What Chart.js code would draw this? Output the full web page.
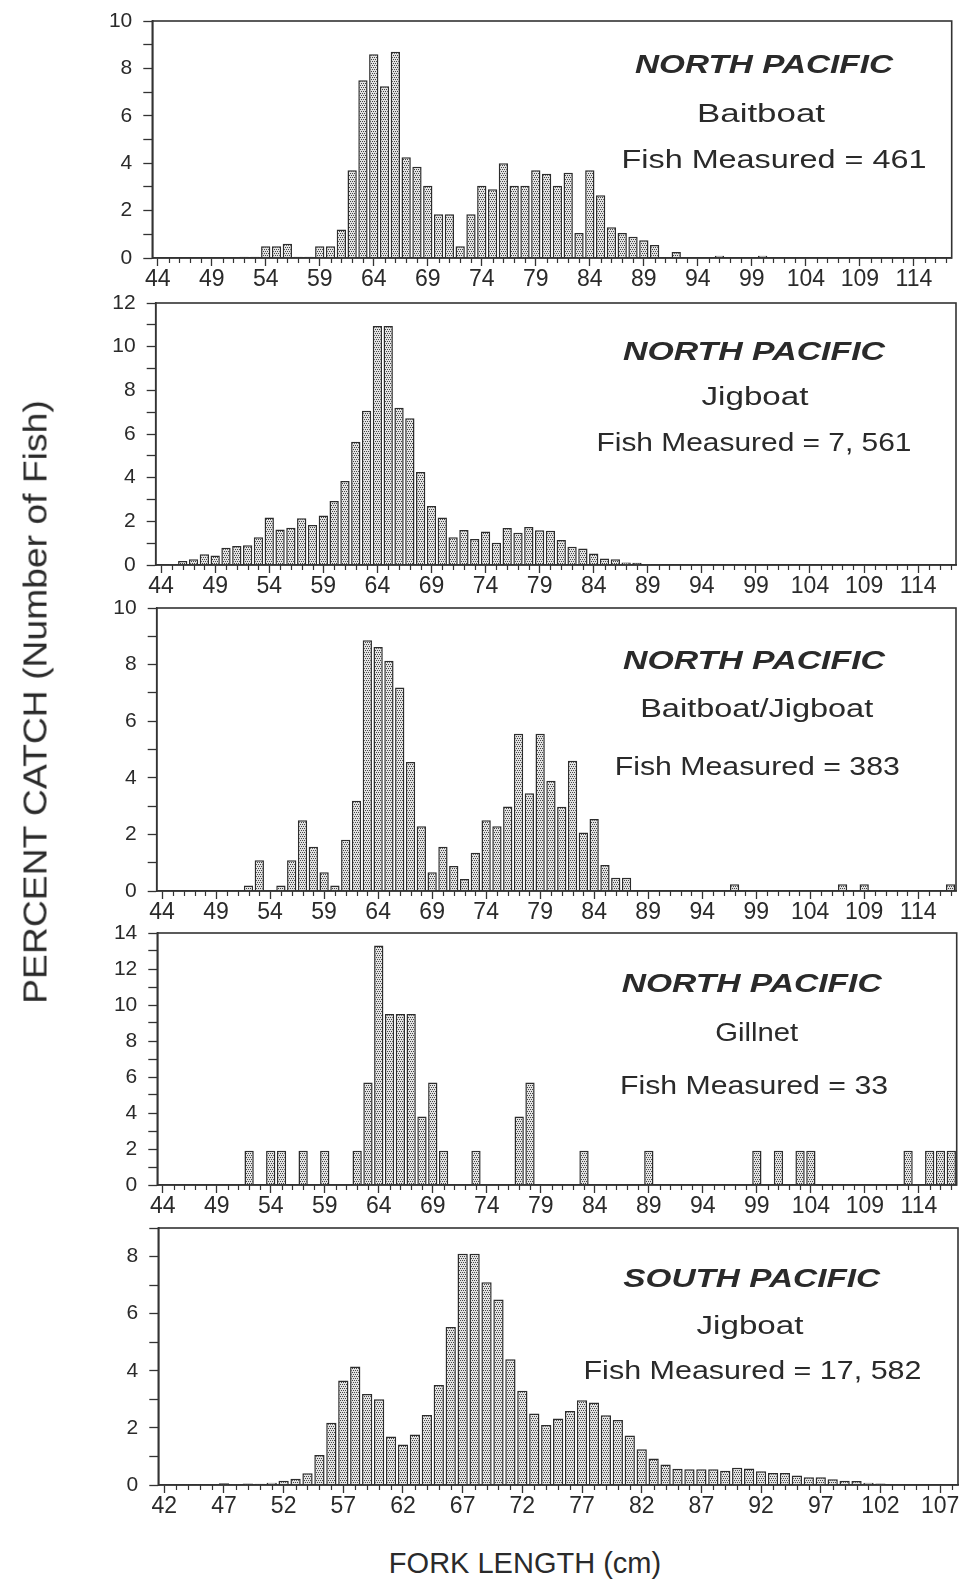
<!DOCTYPE html>
<html><head><meta charset="utf-8">
<script src="https://cdn.jsdelivr.net/npm/chart.js@4.4.1/dist/chart.umd.min.js"></script>
<style>
html,body{margin:0;padding:0;background:#fff;}
body{width:962px;height:1585px;position:relative;overflow:hidden;font-family:'Liberation Sans',Arial,sans-serif;color:#2a2a2a;}
canvas{position:absolute;left:0;}
#ytitle{position:absolute;left:35px;top:702px;white-space:nowrap;font-size:33px;line-height:1;transform:translate(-50%,-50%) rotate(-90deg) scaleX(1.13);}
#xtitle{position:absolute;left:525px;top:1549px;white-space:nowrap;font-size:29px;line-height:1;transform:translateX(-50%);}
</style></head><body>
<canvas id="c1"></canvas><canvas id="c2"></canvas><canvas id="c3"></canvas><canvas id="c4"></canvas><canvas id="c5"></canvas>
<div id="ytitle">PERCENT CATCH (Number of Fish)</div>
<div id="xtitle">FORK LENGTH (cm)</div>
<script>
// ---------- DATA ----------
const lengthsNorth = [44,45,46,47,48,49,50,51,52,53,54,55,56,57,58,59,60,61,62,63,64,65,66,67,68,69,70,71,72,73,74,75,76,77,78,79,80,81,82,83,84,85,86,87,88,89,90,91,92,93,94,95,96,97,98,99,100,101,102,103,104,105,106,107,108,109,110,111,112,113,114,115,116,117];
const lengthsSouth = [42,43,44,45,46,47,48,49,50,51,52,53,54,55,56,57,58,59,60,61,62,63,64,65,66,67,68,69,70,71,72,73,74,75,76,77,78,79,80,81,82,83,84,85,86,87,88,89,90,91,92,93,94,95,96,97,98,99,100,101,102,103,104,105,106,107,108];
const xTickLabelsNorth = [44,49,54,59,64,69,74,79,84,89,94,99,104,109,114];
const xTickLabelsSouth = [42,47,52,57,62,67,72,77,82,87,92,97,102,107];

const npBaitboat = [0,0,0,0,0,0,0,0,0.05,0.05,
 0.5,0.5,0.6,0.05,0.05,0.5,0.5,1.2,3.7,7.5,
 8.6,7.25,8.7,4.25,3.85,3.05,1.85,1.85,0.5,1.85,
 3.05,2.9,4.0,3.05,3.05,3.7,3.55,3.05,3.6,1.05,
 3.7,2.65,1.3,1.05,0.9,0.75,0.55,0,0.25,0,
 0,0,0.1,0,0,0,0.1,
 0,0,0,0,0,0,0,0,0,0,0,0,0,0,0,0,0];
const npJigboat = [0.02,0.05,0.18,0.26,0.49,0.43,0.79,0.87,0.9,1.27,
 2.18,1.63,1.71,2.14,1.83,2.27,2.93,3.85,5.65,7.07,
 10.95,10.95,7.2,6.72,4.26,2.7,2.18,1.27,1.6,1.19,
 1.53,1.02,1.69,1.48,1.74,1.59,1.57,1.15,0.84,0.76,
 0.53,0.3,0.26,0.12,0.1,0.05,0.04,0.03,0.02,0.01,
 0,0,0,0,0,0,0,0,0,0,0,0,0,0,0,0,0,0,0,0,0,0,0,0];
const npBaitJig = [0,0,0,0,0,0,0,0,0.19,1.09,
 0,0.19,1.09,2.5,1.56,0.66,0.19,1.81,3.19,8.86,
 8.62,8.14,7.19,4.56,2.29,0.66,1.56,0.88,0.42,1.35,
 2.5,2.29,2.99,5.56,3.45,5.56,3.9,2.98,4.6,2.07,
 2.54,0.92,0.47,0.47,0,0,0,0,0,0,
 0,0,0,0.24,0,0,0,0,0,0,0,0,0,0.24,0,0.24,0,0,0,0,0,0,0,0.24];
const npGillnet = [0,0,0,0,0,0,0,0,1.9,0,
 1.9,1.9,0,1.9,0,1.9,0,0,1.9,5.7,
 13.3,9.5,9.5,9.5,3.8,5.7,1.9,0,0,1.9,
 0,0,0,3.8,5.7,0,0,0,0,1.9,
 0,0,0,0,0,1.9,0,0,0,0,
 0,0,0,0,0,1.9,0,1.9,0,1.9,1.9,0,0,0,0,0,0,0,0,1.9,0,1.9,1.9,1.9];
const spJigboat = [0.02,0.02,0.03,0.03,0.03,0.06,0.03,0.05,0.04,0.08,
 0.15,0.22,0.41,1.05,2.18,3.66,4.15,3.19,3.0,1.7,
 1.42,1.77,2.45,3.5,5.53,8.1,8.1,7.1,6.5,4.4,
 3.3,2.5,2.1,2.33,2.59,2.97,2.89,2.44,2.28,1.73,
 1.25,0.93,0.72,0.57,0.55,0.55,0.55,0.5,0.6,0.58,
 0.48,0.42,0.42,0.33,0.27,0.27,0.2,0.15,0.14,0.08,
 0.05,0.03,0.02,0,0,0,0];

const yLabels10 = [0,2,4,6,8,10];
const yLabels12 = [0,2,4,6,8,10,12];
const yLabels14 = [0,2,4,6,8,10,12,14];
const yLabels8 = [0,2,4,6,8];

// ---------- LAYOUT ----------
const FONT = "'Liberation Sans', Arial, Helvetica, sans-serif";
const INK = '#2a2a2a';
const LINE = '#333333';
const PAD_TOP = 16, XAXIS_H = 46;

const panels = [
 {id:'c1', cats:lengthsNorth, vals:npBaitboat, xl:xTickLabelsNorth, yl:yLabels10, ymax:10, top:21, bottom:257.7, left:152.3, right:951.7,
  lines:[{t:'NORTH PACIFIC',b:true,x:764,y:73.3,w:258},{t:'Baitboat',x:761,y:122.3,w:128},{t:'Fish Measured = 461',x:774,y:168.3,w:305}]},
 {id:'c2', cats:lengthsNorth, vals:npJigboat, xl:xTickLabelsNorth, yl:yLabels12, ymax:12, top:303.3, bottom:565, left:155.7, right:956,
  lines:[{t:'NORTH PACIFIC',b:true,x:754,y:360,w:262},{t:'Jigboat',x:755,y:405,w:107},{t:'Fish Measured = 7, 561',x:754,y:451.7,w:315}]},
 {id:'c3', cats:lengthsNorth, vals:npBaitJig, xl:xTickLabelsNorth, yl:yLabels10, ymax:10, top:607.7, bottom:891, left:156.7, right:956,
  lines:[{t:'NORTH PACIFIC',b:true,x:754,y:668.3,w:262},{t:'Baitboat/Jigboat',x:756.7,y:716.7,w:233},{t:'Fish Measured = 383',x:757.3,y:775,w:285}]},
 {id:'c4', cats:lengthsNorth, vals:npGillnet, xl:xTickLabelsNorth, yl:yLabels14, ymax:14, top:933.3, bottom:1185, left:157.3, right:956.7,
  lines:[{t:'NORTH PACIFIC',b:true,x:751.7,y:992.3,w:260},{t:'Gillnet',x:756.7,y:1041.7,w:83},{t:'Fish Measured = 33',x:754,y:1094.3,w:268}]},
 {id:'c5', cats:lengthsSouth, vals:spJigboat, xl:xTickLabelsSouth, yl:yLabels8, ymax:9, top:1227.7, bottom:1485, left:158.3, right:958,
  lines:[{t:'SOUTH PACIFIC',b:true,x:751.7,y:1286.7,w:257},{t:'Jigboat',x:750,y:1333.3,w:107},{t:'Fish Measured = 17, 582',x:752.5,y:1378.3,w:338}]}
];

function makePattern(){
  const c = document.createElement('canvas'); c.width = 4; c.height = 4;
  const g = c.getContext('2d');
  g.fillStyle = '#e2e2e2'; g.fillRect(0,0,4,4);
  g.fillStyle = '#444444';
  g.fillRect(0,0,1,1); g.fillRect(2,0,1,1); g.fillRect(1,2,1,1); g.fillRect(3,2,1,1);
  return g.createPattern(c,'repeat');
}

const panelPlugin = {
  id: 'panelDecor',
  afterDatasetsDraw(chart, args, opts){
    const ctx = chart.ctx, a = chart.chartArea, xs = chart.scales.x;
    ctx.save();
    ctx.strokeStyle = LINE; ctx.lineWidth = 1.6;
    ctx.strokeRect(a.left, a.top, a.right - a.left, a.bottom - a.top);
    ctx.lineWidth = 1.2;
    ctx.beginPath();
    xs.ticks.forEach((t, i) => {
      const lab = +xs.getLabelForValue(t.value);
      if (!opts.xl.includes(lab)) {
        const px = Math.round(xs.getPixelForTick(i)) + 0.5;
        ctx.moveTo(px, a.bottom); ctx.lineTo(px, a.bottom + 5);
      }
    });
    ctx.stroke();
    ctx.fillStyle = INK; ctx.textAlign = 'center'; ctx.textBaseline = 'alphabetic';
    opts.lines.forEach(l => {
      ctx.font = (l.b ? 'italic bold ' : '') + '25px ' + FONT;
      const w = ctx.measureText(l.t).width;
      ctx.save();
      ctx.translate(l.x, l.y - opts.canvasTop);
      ctx.scale(l.w / w, 1);
      ctx.fillText(l.t, 0, 0);
      ctx.restore();
    });
    ctx.restore();
  }
};

const pattern = makePattern();

panels.forEach(p => {
  const cv = document.getElementById(p.id);
  const canvasTop = p.top - PAD_TOP;
  const H = Math.round((p.bottom - p.top) + PAD_TOP + XAXIS_H);
  cv.width = 962; cv.height = H;
  cv.style.width = '962px'; cv.style.height = H + 'px'; cv.style.top = canvasTop + 'px';
  new Chart(cv, {
    type: 'bar',
    data: {
      labels: p.cats,
      datasets: [{
        data: p.vals,
        backgroundColor: pattern,
        borderColor: '#2c2c2c',
        borderWidth: 1.5,
        barPercentage: 0.86,
        categoryPercentage: 1.0
      }]
    },
    plugins: [panelPlugin],
    options: {
      responsive: false, animation: false, devicePixelRatio: 1,
      layout: { padding: { top: PAD_TOP, right: 962 - p.right, left: 0, bottom: 0 } },
      plugins: {
        legend: { display: false }, tooltip: { enabled: false },
        panelDecor: { xl: p.xl, lines: p.lines, canvasTop: canvasTop }
      },
      scales: {
        x: {
          type: 'category', offset: true,
          grid: { offset: false, drawOnChartArea: false, tickLength: 8, tickWidth: 1.3,
                  tickColor: (c) => (c.tick && p.xl.includes(+p.cats[c.index])) ? LINE : 'rgba(0,0,0,0)' },
          border: { color: LINE, width: 1.6 },
          ticks: { autoSkip: false, maxRotation: 0, minRotation: 0, padding: 0, color: INK,
                   font: { family: FONT, size: 23 },
                   callback: function(v, i){ const lab = +this.getLabelForValue(v); return p.xl.includes(lab) ? String(lab) : ''; } },
          afterFit: (s) => { s.height = XAXIS_H; s.paddingLeft = 0; s.paddingRight = 0; }
        },
        y: {
          min: 0, max: p.ymax,
          grid: { drawOnChartArea: false, tickLength: 9, tickWidth: 1.3, tickColor: LINE },
          border: { color: LINE, width: 1.6 },
          ticks: { stepSize: 1, autoSkip: false, padding: 11, color: INK, font: { family: FONT, size: 21 },
                   callback: (v) => p.yl.includes(v) ? String(v) : '' },
          afterFit: (s) => { s.width = p.left; s.paddingTop = 0; s.paddingBottom = 0; }
        }
      }
    }
  });
});
</script>
</body></html>
